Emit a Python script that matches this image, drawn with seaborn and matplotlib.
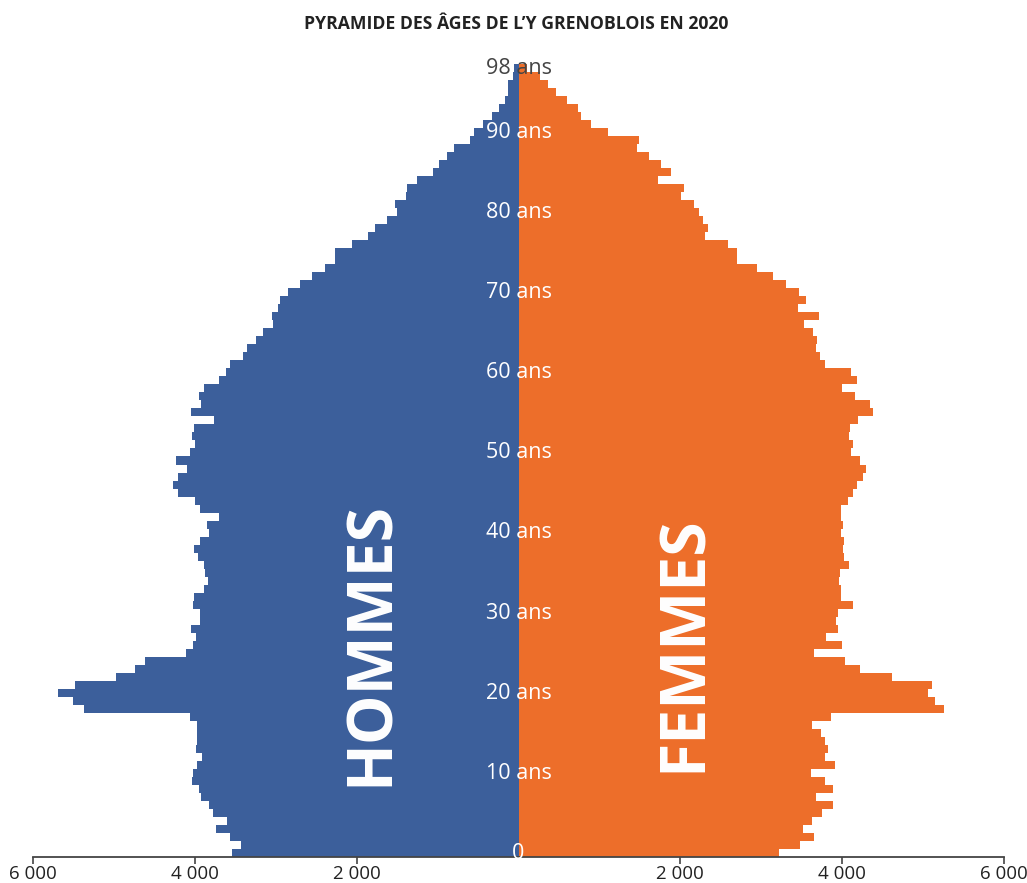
import pandas as pd
import seaborn as sns
import matplotlib.pyplot as plt

# --- Data ---
AGES = list(range(0, 99))

HOMMES = [
    3538, 3428, 3567, 3743, 3600, 3776, 3825, 3928, 3948, 4039,
    4022, 3977, 3916, 3989, 3969, 3969, 3969, 4055, 5375, 5502,
    5695, 5486, 4973, 4744, 4612, 4104, 4018, 3985, 4042, 3936,
    3936, 4022, 4010, 3887, 3837, 3874, 3887, 3956, 4010, 3940,
    3825, 3845, 3698, 3936, 3993, 4202, 4276, 4211, 4096, 4227,
    4055, 3997, 4034, 4014, 3764, 4042, 3928, 3948, 3887, 3697,
    3620, 3571, 3407, 3358, 3243, 3161, 3038, 3046, 2973, 2944,
    2850, 2698, 2554, 2394, 2263, 2263, 2058, 1857, 1775, 1620,
    1497, 1525, 1394, 1373, 1250, 1062, 988, 886, 800, 599,
    549, 439, 328, 242, 168, 127, 127, 66, 50,
]

FEMMES = [
    3214, 3481, 3653, 3522, 3624, 3747, 3891, 3674, 3891, 3788,
    3616, 3907, 3784, 3821, 3788, 3735, 3624, 3866, 5256, 5146,
    5059, 5105, 4613, 4223, 4035, 3653, 3994, 3801, 3945, 3928,
    3953, 4138, 3986, 3986, 3965, 3978, 4084, 4027, 4010, 4027,
    3990, 4010, 3982, 3990, 4072, 4133, 4178, 4261, 4298, 4224,
    4113, 4129, 4084, 4100, 4198, 4383, 4338, 4157, 3993, 4182,
    4104, 3793, 3723, 3682, 3690, 3645, 3534, 3715, 3452, 3559,
    3465, 3305, 3141, 2948, 2706, 2706, 2595, 2308, 2337, 2280,
    2226, 2173, 2005, 2046, 1718, 1882, 1755, 1611, 1468, 1492,
    1103, 894, 775, 734, 603, 467, 369, 266, 100,
]

X_TICKS = [-6000, -4000, -2000, 2000, 4000, 6000]
X_TICK_LABELS = ["6 000", "4 000", "2 000", "2 000", "4 000", "6 000"]
AGE_LABELS = [0, 10, 20, 30, 40, 50, 60, 70, 80, 90, 98]

TITLE = "PYRAMIDE DES ÂGES DE L’Y GRENOBLOIS EN 2020"
BLUE = "#3c5f9b"
ORANGE = "#ed6e2a"
OUTPUT_PNG_FILENAME = "out.png"


def build_frame():
    hommes = pd.DataFrame({"age": AGES, "pop": [-v for v in HOMMES], "sexe": "Hommes"})
    femmes = pd.DataFrame({"age": AGES, "pop": FEMMES, "sexe": "Femmes"})
    return pd.concat([hommes, femmes], ignore_index=True)


def main():
    sns.set_theme(style="white")
    plt.rcParams["font.family"] = ["Open Sans", "DejaVu Sans"]

    df = build_frame()

    fig = plt.figure(figsize=(10.27, 8.83), dpi=100)
    ax = fig.add_axes([33 / 1027, 1 - 857 / 883, (1004 - 33) / 1027, (857 - 64) / 883])

    palette = {"Hommes": BLUE, "Femmes": ORANGE}
    for sexe in ["Hommes", "Femmes"]:
        sns.barplot(
            data=df[df["sexe"] == sexe], x="pop", y="age", orient="h",
            native_scale=True, width=1, color=palette[sexe],
            linewidth=0, antialiased=False, ax=ax, saturation=1,
        )

    ax.set_xlim(-6000, 6000)
    ax.set_ylim(-0.5, 98.5)

    # age labels down the middle
    for age in AGE_LABELS:
        label = "0" if age == 0 else f"{age} ans"
        color = "#444444" if age == 98 else "white"
        ax.text(0, age - 0.05, label, ha="center", va="center",
                fontsize=15.5, color=color)

    ax.text(-1817, 26.1, "HOMMES", rotation=90, ha="center", va="center",
            fontsize=45, fontweight="bold", color="white")
    ax.text(2050, 26.1, "FEMMES", rotation=90, ha="center", va="center",
            fontsize=45, fontweight="bold", color="white")

    # axes styling
    for side in ["top", "right", "left"]:
        ax.spines[side].set_visible(False)
    ax.spines["bottom"].set_color("#444444")
    ax.spines["bottom"].set_linewidth(1.3)
    ax.set_yticks([])
    ax.set_xticks(X_TICKS)
    ax.set_xticklabels(X_TICK_LABELS, fontsize=13.5, color="#222222")
    ax.tick_params(axis="x", direction="out", length=5, width=1.2,
                   color="#444444", bottom=True, pad=0.8)
    ax.set_xlabel("")
    ax.set_ylabel("")

    fig.text(516 / 1027, 1 - 24 / 883, TITLE, ha="center", va="center",
             fontsize=12.7, fontweight="bold", color="#222222")

    fig.savefig(OUTPUT_PNG_FILENAME, dpi=100)


if __name__ == "__main__":
    main()
